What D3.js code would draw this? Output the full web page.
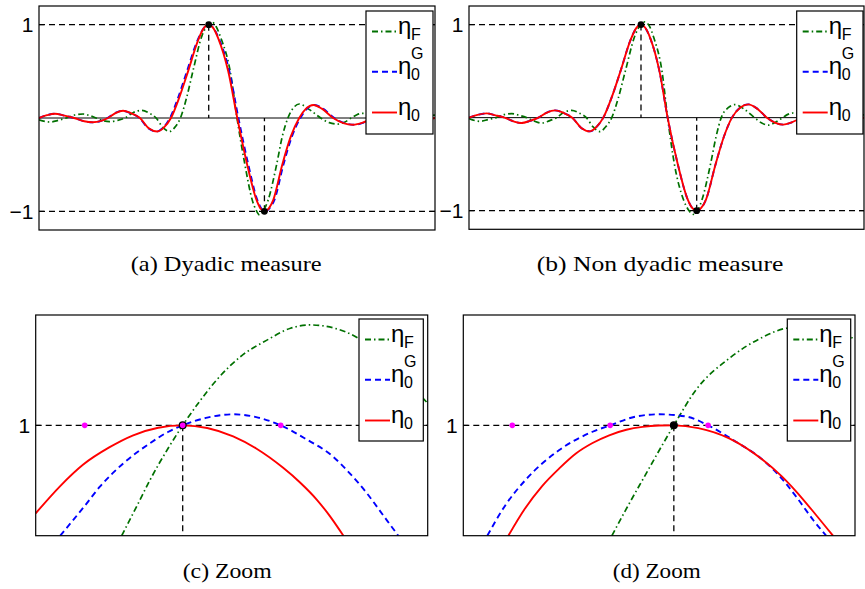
<!DOCTYPE html>
<html>
<head>
<meta charset="utf-8">
<script src="https://cdn.jsdelivr.net/npm/d3@7"></script>
<style>
  body { margin: 0; background: #fff; }
  svg { display: block; }
  .sans { font-family: "Liberation Sans", Arial, Helvetica, sans-serif; }
  .serif { font-family: "Liberation Serif", "Times New Roman", serif; }
</style>
</head>
<body>
<svg id="fig" width="865" height="589"></svg>
<script>
// ---- values: [t, eta(t)] ----

// (a) dyadic measure
const greenA = [[-3.0,-0.02],[-2.81,-0.043],[-2.66,-0.025],[-2.52,0],[-2.37,0.032],[-2.22,0.043],[-2.1,0.025],[-1.99,0],[-1.87,-0.028],[-1.75,-0.038],[-1.61,-0.025],[-1.48,0],[-1.33,0.06],[-1.19,0.082],[-1.06,0.055],[-0.93,0],[-0.81,-0.1],[-0.69,-0.144],[-0.6,-0.1],[-0.5,0],[-0.39,0.22],[-0.28,0.5],[-0.12,0.88],[-0.03,0.99],[0.05,1.03],[0.13,0.98],[0.22,0.85],[0.38,0.5],[0.5,0],[0.64,-0.5],[0.77,-0.88],[0.84,-0.99],[0.9,-1.04],[0.97,-0.99],[1.05,-0.88],[1.2,-0.5],[1.3,-0.2],[1.4,0],[1.5,0.11],[1.6,0.15],[1.78,0.09],[1.98,0],[2.13,-0.05],[2.28,-0.065],[2.4,-0.045],[2.52,0],[2.62,0.035],[2.72,0.05],[2.87,0.035],[3.03,0],[3.18,-0.028],[3.34,-0.035],[3.5,-0.02],[3.65,0],[3.82,0.025],[4.0,0.03]];
const blueA = [[-3.0,0],[-2.86,0.03],[-2.72,0.046],[-2.55,0.025],[-2.38,0],[-2.2,-0.035],[-2.05,-0.047],[-1.9,-0.03],[-1.79,0],[-1.65,0.055],[-1.525,0.078],[-1.38,0.05],[-1.225,0],[-1.07,-0.11],[-0.92,-0.145],[-0.8,-0.1],[-0.685,0],[-0.54,0.22],[-0.385,0.5],[-0.2,0.83],[-0.09,0.96],[0,1.0],[0.09,0.96],[0.18,0.85],[0.365,0.5],[0.525,0],[0.7,-0.5],[0.855,-0.87],[0.93,-0.97],[0.995,-1.0],[1.07,-0.97],[1.16,-0.88],[1.32,-0.5],[1.47,-0.2],[1.62,0],[1.74,0.1],[1.87,0.14],[2.02,0.1],[2.22,0],[2.4,-0.055],[2.57,-0.072],[2.74,-0.05],[2.92,0],[3.1,0.04],[3.28,0.05],[3.45,0.03],[3.62,0],[3.82,-0.02],[4.0,0]];
const redA = [[-3.0,0],[-2.86,0.03],[-2.72,0.046],[-2.55,0.025],[-2.38,0],[-2.2,-0.035],[-2.05,-0.045],[-1.9,-0.03],[-1.78,0],[-1.64,0.055],[-1.515,0.078],[-1.37,0.05],[-1.215,0],[-1.06,-0.11],[-0.91,-0.144],[-0.79,-0.1],[-0.667,0],[-0.52,0.22],[-0.365,0.5],[-0.19,0.83],[-0.09,0.96],[0,1.0],[0.085,0.96],[0.17,0.85],[0.345,0.5],[0.505,0],[0.68,-0.5],[0.84,-0.87],[0.915,-0.97],[0.985,-1.0],[1.06,-0.97],[1.14,-0.88],[1.3,-0.5],[1.45,-0.2],[1.6,0],[1.72,0.1],[1.85,0.14],[2.0,0.1],[2.2,0],[2.38,-0.055],[2.55,-0.072],[2.72,-0.05],[2.9,0],[3.08,0.04],[3.26,0.05],[3.43,0.03],[3.6,0],[3.8,-0.02],[4.0,0]];
const extremaA = [[0,1],[0.985,-1]];

// (b) non dyadic measure (blue sits under red)
const greenB = [[-3.0,-0.01],[-2.805,-0.04],[-2.66,-0.02],[-2.52,0],[-2.38,0.032],[-2.243,0.043],[-2.11,0.025],[-1.98,0],[-1.85,-0.035],[-1.712,-0.058],[-1.58,-0.035],[-1.45,0],[-1.31,0.06],[-1.18,0.078],[-1.05,0.05],[-0.92,0],[-0.8,-0.1],[-0.679,-0.15],[-0.58,-0.1],[-0.47,0],[-0.35,0.22],[-0.23,0.5],[-0.06,0.88],[0.03,0.99],[0.119,1.03],[0.2,0.98],[0.28,0.85],[0.42,0.5],[0.52,0],[0.64,-0.5],[0.8,-0.88],[0.9,-1.0],[0.975,-1.04],[1.05,-1.0],[1.13,-0.88],[1.28,-0.5],[1.38,-0.2],[1.47,0],[1.6,0.11],[1.714,0.14],[1.88,0.09],[2.06,0],[2.18,-0.055],[2.304,-0.08],[2.43,-0.05],[2.56,0],[2.65,0.035],[2.742,0.05],[2.88,0.035],[3.03,0],[3.18,-0.028],[3.34,-0.035],[3.5,-0.02],[3.65,0],[3.82,0.025],[4.0,0.03]];
const redB = [[-3.0,0],[-2.85,0.03],[-2.69,0.046],[-2.53,0.025],[-2.37,0],[-2.21,-0.04],[-2.07,-0.058],[-1.92,-0.035],[-1.77,0],[-1.62,0.055],[-1.476,0.078],[-1.32,0.05],[-1.17,0],[-1.01,-0.11],[-0.855,-0.147],[-0.74,-0.1],[-0.62,0],[-0.47,0.22],[-0.315,0.5],[-0.14,0.83],[-0.04,0.96],[0.048,1.0],[0.13,0.96],[0.215,0.85],[0.375,0.5],[0.52,0],[0.7,-0.5],[0.87,-0.87],[0.955,-0.97],[1.035,-1.0],[1.115,-0.97],[1.2,-0.88],[1.37,-0.5],[1.52,-0.2],[1.66,0],[1.81,0.11],[1.95,0.143],[2.1,0.1],[2.28,0],[2.43,-0.055],[2.57,-0.075],[2.72,-0.05],[2.9,0],[3.08,0.04],[3.26,0.05],[3.43,0.03],[3.6,0],[3.8,-0.02],[4.0,0]];
const blueB = redB;
const extremaB = [[0.048,1],[1.035,-1]];

// (c) zoom on the dyadic maximum
const greenC = [[-1.245,0],[-0.9,0.3],[-0.667,0.505],[-0.3,0.79],[0,1.0],[0.35,1.22],[0.69,1.41],[1.2,1.63],[1.71,1.77],[2.2,1.88],[2.6,1.91],[3.1,1.88],[3.58,1.79],[4.2,1.56],[5.0,1.2]];
const blueC = [[-2.5,0],[-2.0,0.27],[-1.69,0.444],[-1.2,0.66],[-0.67,0.837],[-0.3,0.94],[0,1.0],[0.5,1.07],[1.03,1.1],[1.5,1.075],[2.0,1.0],[2.5,0.88],[3.07,0.716],[3.4,0.57],[3.76,0.384],[4.1,0.18],[4.4,0]];
const redC = [[-3.0,0.203],[-2.5,0.45],[-2.03,0.645],[-1.5,0.8],[-1.01,0.91],[-0.5,0.978],[0,1.0],[0.5,0.976],[1.03,0.9],[1.5,0.79],[2.05,0.615],[2.4,0.48],[2.73,0.33],[3.0,0.18],[3.28,0]];
const samplesC = [-2, 0, 2];
const maxC = [0, 1];

// (d) zoom on the non dyadic maximum
const greenD = [[0.035,0],[0.35,0.26],[0.66,0.505],[1.3,1.0],[1.75,1.32],[2.44,1.61],[3.12,1.8],[3.6,1.88],[4.2,1.9],[5.0,1.78]];
const blueD = [[-2.51,0],[-2.15,0.27],[-1.73,0.505],[-1.04,0.776],[-0.36,0.942],[0,1.0],[0.525,1.08],[1.0,1.1],[1.55,1.08],[2.0,1.0],[2.5,0.87],[3.12,0.686],[3.5,0.52],[3.8,0.353],[4.15,0.14],[4.41,0]];
const redD = [[-2.08,0],[-1.75,0.24],[-1.39,0.45],[-1.04,0.61],[-0.7,0.745],[-0.36,0.84],[-0.02,0.91],[0.33,0.96],[0.66,0.986],[1.0,0.998],[1.3,1.0],[1.8,0.975],[2.43,0.882],[3.12,0.686],[3.5,0.54],[3.8,0.4],[4.2,0.19],[4.55,0]];
const samplesD = [-2, 0, 2];
const maxD = [1.3, 1];

const yTicksFull = [-1, 1];
const yTicksZoom = [1];
const captions = ["(a) Dyadic measure", "(b) Non dyadic measure", "(c) Zoom", "(d) Zoom"];

// ---- layout ----
const GREEN = "#007000", BLUE = "#0000ff", RED = "#ff0000", MAGENTA = "#ff00ff";

const panels = [
  { kind: "full", box: [39, 6, 435, 230], xd: [-3, 4], yd: [-1.2, 1.2], green: greenA, blue: blueA, red: redA,
    extrema: extremaA, legend: [366, 11, 67, 123], cap: [captions[0], 130.7, 271, 191] },
  { kind: "full", box: [469, 6, 864, 229.3], xd: [-3, 4], yd: [-1.2, 1.2], green: greenB, blue: blueB, red: redB,
    extrema: extremaB, legend: [796.7, 11, 66.3, 123], cap: [captions[1], 536.7, 271, 246.6] },
  { kind: "zoom", box: [35.7, 315, 427.7, 535.7], xd: [-3, 5], yd: [0, 2], green: greenC, blue: blueC, red: redC,
    samples: samplesC, max: maxC, maxFill: MAGENTA, legend: [359, 319, 64.3, 122], cap: [captions[2], 182.7, 577.7, 89] },
  { kind: "zoom", box: [463.3, 315, 855, 535.7], xd: [-3, 5], yd: [0, 2], green: greenD, blue: blueD, red: redD,
    samples: samplesD, max: maxD, maxFill: "#000", legend: [787.3, 319, 63.4, 122], cap: [captions[3], 612.7, 577.7, 88] },
];

const svg = d3.select("#fig");

panels.forEach((p, i) => {
  const [x0, y0, x1, y1] = p.box;
  const x = d3.scaleLinear().domain(p.xd).range([x0, x1]);
  const y = d3.scaleLinear().domain(p.yd).range([y1, y0]);
  const g = svg.append("g");

  g.append("clipPath").attr("id", "clip" + i)
    .append("rect").attr("x", x0).attr("y", y0).attr("width", x1 - x0).attr("height", y1 - y0);

  const ref = g.append("g").attr("clip-path", `url(#clip${i})`)
    .attr("stroke", "#000").attr("fill", "none");
  const ticks = p.kind === "full" ? yTicksFull : yTicksZoom;

  // dashed level lines
  ref.selectAll("line.h").data(ticks).join("line")
    .attr("x1", x0).attr("x2", x1).attr("y1", d => y(d)).attr("y2", d => y(d))
    .attr("stroke-width", 1.3).attr("stroke-dasharray", "6,4");

  if (p.kind === "full") {
    ref.append("line").attr("x1", x0).attr("x2", x1).attr("y1", y(0)).attr("y2", y(0)).attr("stroke-width", 1);
    ref.selectAll("line.v").data(p.extrema).join("line")
      .attr("x1", d => x(d[0])).attr("x2", d => x(d[0]))
      .attr("y1", d => y(d[1])).attr("y2", y(0))
      .attr("stroke-width", 1.3).attr("stroke-dasharray", "6,4");
  } else {
    ref.append("line").attr("x1", x(p.max[0])).attr("x2", x(p.max[0]))
      .attr("y1", y(p.max[1])).attr("y2", y1)
      .attr("stroke-width", 1.3).attr("stroke-dasharray", "6,4");
  }

  // curves: green first, red on top
  const line = d3.line().x(d => x(d[0])).y(d => y(d[1])).curve(d3.curveMonotoneX);
  const curves = g.append("g").attr("clip-path", `url(#clip${i})`).attr("fill", "none");
  curves.append("path").attr("d", line(p.green)).attr("stroke", GREEN)
    .attr("stroke-width", 1.7).attr("stroke-dasharray", "6,3,1.5,3");
  curves.append("path").attr("d", line(p.blue)).attr("stroke", BLUE)
    .attr("stroke-width", 1.9).attr("stroke-dasharray", "6,4");
  curves.append("path").attr("d", line(p.red)).attr("stroke", RED).attr("stroke-width", 1.9);

  // markers
  if (p.kind === "full") {
    g.selectAll("circle.e").data(p.extrema).join("circle")
      .attr("cx", d => x(d[0])).attr("cy", d => y(d[1])).attr("r", 3.4).attr("fill", "#000");
  } else {
    g.selectAll("circle.s").data(p.samples).join("circle")
      .attr("cx", d => x(d)).attr("cy", y(1)).attr("r", 2.8).attr("fill", MAGENTA);
    g.append("circle").attr("cx", x(p.max[0])).attr("cy", y(p.max[1])).attr("r", 3.4)
      .attr("fill", p.maxFill).attr("stroke", "#000").attr("stroke-width", 1.2);
  }

  // box, inner ticks
  g.append("rect").attr("x", x0).attr("y", y0).attr("width", x1 - x0).attr("height", y1 - y0)
    .attr("fill", "none").attr("stroke", "#000").attr("stroke-width", 1.2);
  ticks.forEach(t => {
    g.append("line").attr("x1", x0).attr("x2", x0 + 5).attr("y1", y(t)).attr("y2", y(t)).attr("stroke", "#000");
    g.append("line").attr("x1", x1 - 5).attr("x2", x1).attr("y1", y(t)).attr("y2", y(t)).attr("stroke", "#000");
  });
  g.selectAll("text.tick").data(ticks).join("text")
    .attr("class", "sans")
    .attr("x", x0 - 5.5).attr("y", d => y(d) + 7.5)
    .attr("text-anchor", "end").attr("font-size", 21)
    .text(d => d < 0 ? "\u2212" + Math.abs(d) : d);

  // legend
  const [lx, ly, lw, lh] = p.legend;
  const lg = g.append("g").attr("class", "sans");
  lg.append("rect").attr("x", lx).attr("y", ly).attr("width", lw).attr("height", lh)
    .attr("fill", "#fff").attr("stroke", "#000").attr("stroke-width", 1.2);
  const entries = [
    { c: GREEN, dash: "6,3,1.5,3", dy: 20.5, sub: "F" },
    { c: BLUE, dash: "6,4", dy: 60.8, sub: "0", sup: "G" },
    { c: RED, dash: null, dy: 101.5, sub: "0" },
  ];
  entries.forEach(e => {
    const yy = ly + e.dy;
    lg.append("line").attr("x1", lx + 6).attr("x2", lx + 31).attr("y1", yy).attr("y2", yy)
      .attr("stroke", e.c).attr("stroke-width", 1.9).attr("stroke-dasharray", e.dash);
    lg.append("text").attr("x", lx + 32).attr("y", yy + 2).attr("font-size", 24).text("\u03b7");
    lg.append("text").attr("x", lx + 45).attr("y", yy + 8).attr("font-size", 16).text(e.sub);
    if (e.sup) {
      lg.append("text").attr("x", lx + 45).attr("y", yy - 13).attr("font-size", 16).text(e.sup);
    }
  });

  // caption
  const [txt, cx, cy, cw] = p.cap;
  svg.append("text").attr("class", "serif").attr("x", cx).attr("y", cy)
    .attr("font-size", 21)
    .attr("textLength", cw).attr("lengthAdjust", "spacingAndGlyphs")
    .text(txt);
});
</script>
</body>
</html>
